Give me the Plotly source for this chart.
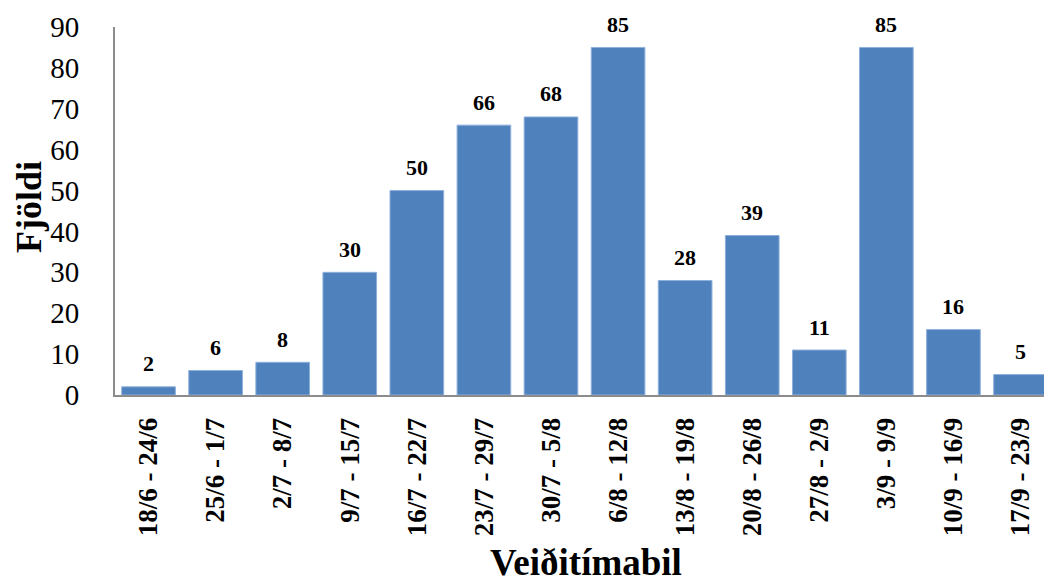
import plotly.graph_objects as go

periods = ["18/6 - 24/6", "25/6 - 1/7", "2/7 - 8/7", "9/7 - 15/7", "16/7 - 22/7",
           "23/7 - 29/7", "30/7 - 5/8", "6/8 - 12/8", "13/8 - 19/8", "20/8 - 26/8",
           "27/8 - 2/9", "3/9 - 9/9", "10/9 - 16/9", "17/9 - 23/9"]
counts = [2, 6, 8, 30, 50, 66, 68, 85, 28, 39, 11, 85, 16, 5]
y_ticks = [0, 10, 20, 30, 40, 50, 60, 70, 80, 90]

serif = "Liberation Serif, Times New Roman, serif"

fig = go.Figure(go.Bar(
    x=periods,
    y=counts,
    marker=dict(color="#4F81BD", line=dict(color="#8EB0DC", width=1)),
    width=0.8,
    hoverinfo="x+y",
))

# value labels floating above each bar
for p, v in zip(periods, counts):
    fig.add_annotation(
        x=p, y=v, text=f"<b>{v}</b>", showarrow=False,
        xanchor="center", yanchor="middle", yshift=23,
        font=dict(family=serif, size=22, color="black"),
    )

fig.update_layout(
    width=1044, height=586,
    margin=dict(l=115, r=0, t=27, b=191),
    paper_bgcolor="white", plot_bgcolor="white",
    showlegend=False,
    font=dict(family=serif, color="black"),
)

fig.update_xaxes(
    type="category",
    range=[-0.5, 13.35],
    showline=True, linecolor="#8C8C8C", linewidth=2,
    showgrid=False, ticks="",
    tickangle=-90,
    tickfont=dict(family=serif, size=27, color="black"),
    tickprefix="<b>", ticksuffix="</b>",
    ticklabelstandoff=10,
)

fig.update_yaxes(
    range=[0, 90],
    tickvals=y_ticks,
    showline=True, linecolor="#8C8C8C", linewidth=2,
    showgrid=False, ticks="", zeroline=False,
    tickfont=dict(family=serif, size=29, color="black"),
    ticklabelstandoff=28,
)

fig.add_annotation(
    text="<b>Fjöldi</b>", textangle=-90,
    xref="paper", yref="paper", x=-0.0925, y=0.5, yshift=4,
    xanchor="center", yanchor="middle", showarrow=False,
    font=dict(family=serif, size=36, color="black"),
)
fig.add_annotation(
    text="<b>Veiðitímabil</b>",
    xref="paper", yref="paper", x=0.507, y=-0.462, yshift=3,
    xanchor="center", yanchor="middle", showarrow=False,
    font=dict(family=serif, size=37, color="black"),
)

fig.write_html("out.html")
